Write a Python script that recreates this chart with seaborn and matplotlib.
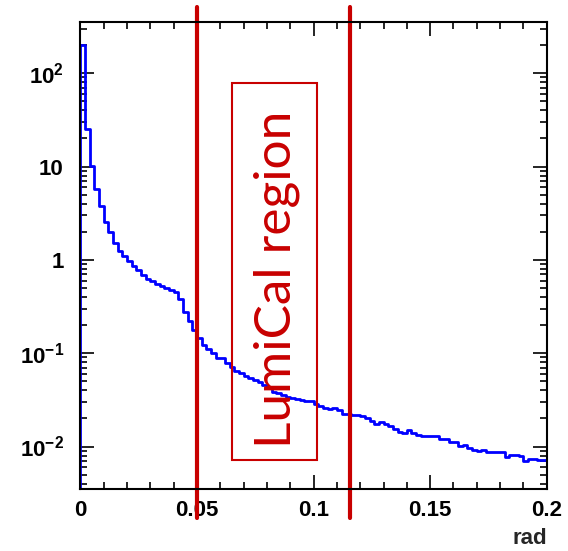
import numpy as np
import pandas as pd
import matplotlib
matplotlib.use("Agg")
import matplotlib.pyplot as plt
from matplotlib.ticker import MultipleLocator, LogLocator, FixedLocator, FixedFormatter, NullFormatter
from matplotlib.patches import Rectangle
import seaborn as sns

# Polar-angle distribution, 100 bins of 2 mrad between 0 and 0.2 rad
bin_width = 0.002
theta_min, theta_max = 0.0, 0.2
counts = [
    200, 25.3, 10.2, 5.7, 3.81, 2.56, 1.98, 1.53, 1.24, 1.11,
    0.97, 0.87, 0.78, 0.69, 0.62, 0.60, 0.552, 0.525, 0.497, 0.476,
    0.45, 0.381, 0.279, 0.221, 0.177, 0.145, 0.122, 0.111, 0.0997, 0.0895,
    0.088, 0.078, 0.0706, 0.0644, 0.061, 0.0574, 0.0547, 0.0517, 0.0488, 0.0456,
    0.042, 0.0387, 0.0371, 0.0357, 0.0342, 0.0334, 0.0323, 0.0315, 0.031, 0.031,
    0.0285, 0.0274, 0.0257, 0.0252, 0.0259, 0.0244, 0.0225, 0.0225, 0.0215, 0.0215,
    0.0213, 0.0200, 0.0189, 0.0174, 0.0183, 0.0176, 0.0165, 0.0153, 0.0143, 0.0141,
    0.0152, 0.0138, 0.0133, 0.0131, 0.0131, 0.0131, 0.0131, 0.0121, 0.0121, 0.0113,
    0.0112, 0.0101, 0.0105, 0.00965, 0.0092, 0.0090, 0.0092, 0.0088, 0.0088, 0.0088,
    0.0088, 0.0077, 0.0081, 0.0081, 0.0079, 0.0070, 0.0074, 0.0074, 0.0072, 0.0072,
]

# LumiCal angular acceptance
lumical_edges = [0.05, 0.1157]
region_label = "LumiCal region"

x_ticks = [0, 0.05, 0.1, 0.15, 0.2]
x_tick_labels = ["0", "0.05", "0.1", "0.15", "0.2"]
y_ticks = [0.01, 0.1, 1, 10, 100]
y_tick_labels = [r"$10^{-2}$", r"$10^{-1}$", "1", "10", r"$10^{2}$"]
y_limits = (0.00348, 357)
x_title = "rad"

edges = np.arange(len(counts) + 1) * bin_width + theta_min
centers = 0.5 * (edges[:-1] + edges[1:])
df = pd.DataFrame({"theta": centers, "weight": counts})

sns.set_theme(style="ticks")
plt.rcParams["font.family"] = ["Liberation Sans", "DejaVu Sans"]
plt.rcParams["font.weight"] = "bold"
plt.rcParams["mathtext.fontset"] = "custom"
plt.rcParams["mathtext.rm"] = "Liberation Sans:bold"
plt.rcParams["mathtext.it"] = "Liberation Sans:bold"
plt.rcParams["mathtext.bf"] = "Liberation Sans:bold"
plt.rcParams["mathtext.default"] = "rm"

fig = plt.figure(figsize=(5.68, 5.51), dpi=100)
fig.patch.set_facecolor("white")
ax = fig.add_axes([0.1417, 0.1120, 0.8208, 0.8487])
ax.set_facecolor("white")

blue = "#0000ff"
red = "#c80000"

sns.histplot(data=df, x="theta", weights="weight", bins=len(counts),
             binrange=(theta_min, theta_max), element="step",
             fill=False, color=blue, linewidth=2.0, ax=ax, legend=False)
ax.set_yscale("log")
ax.set_ylim(*y_limits)
ax.set_xlim(theta_min, theta_max)
# rising edge of the first bin from the bottom of the frame
ax.vlines(edges[0], y_limits[0], counts[0], color=blue, linewidth=2.0)

for xv in lumical_edges:
    ax.axvline(xv, ymin=-0.061, ymax=1.031, color=red, linewidth=3.0,
               clip_on=False, zorder=5)

ax.add_patch(Rectangle((0.3243, 0.0627), 0.1824, 0.8053, transform=ax.transAxes,
                       fill=False, edgecolor=red, linewidth=1.5, zorder=6))
ax.text(0.422, 0.450, region_label, transform=ax.transAxes, rotation=90,
        ha="center", va="center", color=red, fontsize=37,
        fontfamily=["Lato", "DejaVu Sans"], fontweight="normal", zorder=7)

ax.xaxis.set_major_locator(FixedLocator(x_ticks))
ax.xaxis.set_major_formatter(FixedFormatter(x_tick_labels))
ax.xaxis.set_minor_locator(MultipleLocator(0.01))
ax.yaxis.set_major_locator(FixedLocator(y_ticks))
ax.yaxis.set_major_formatter(FixedFormatter(y_tick_labels))
ax.yaxis.set_minor_locator(LogLocator(base=10, subs=np.arange(2, 10)))
ax.yaxis.set_minor_formatter(NullFormatter())

ax.tick_params(axis="both", which="both", direction="in", top=True, right=True,
               colors="black", width=1.2)
ax.tick_params(axis="both", which="major", length=10, labelsize=16)
ax.tick_params(axis="both", which="minor", length=5)
ax.tick_params(axis="x", which="major", pad=8)
ax.tick_params(axis="y", which="major", pad=12)
for lab in ax.get_xticklabels() + ax.get_yticklabels():
    lab.set_fontweight("bold")

for side in ["left", "right", "top", "bottom"]:
    ax.spines[side].set_visible(True)
    ax.spines[side].set_linewidth(1.5)
    ax.spines[side].set_color("black")
    ax.spines[side].set_zorder(8)

ax.set_ylabel("")
ax.set_xlabel(x_title, loc="right", fontsize=16, fontweight="bold", labelpad=5)
ax.grid(False)

fig.savefig("out.png", dpi=100, facecolor="white")
